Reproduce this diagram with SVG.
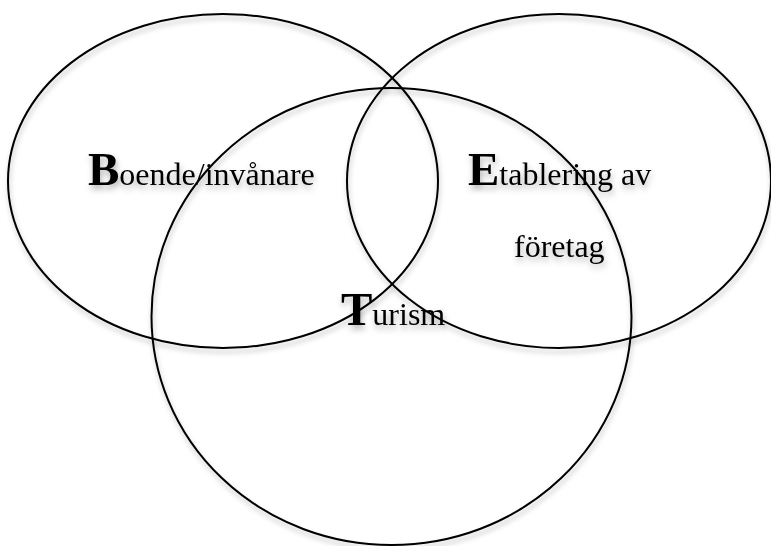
<svg xmlns="http://www.w3.org/2000/svg" width="771" height="546" viewBox="0 0 771 546">
<defs>
<filter id="sh" x="-10%" y="-10%" width="120%" height="130%">
<feDropShadow dx="1" dy="4" stdDeviation="2.5" flood-color="#000" flood-opacity="0.25"/>
</filter>
<filter id="tsh" x="-10%" y="-20%" width="120%" height="160%">
<feDropShadow dx="1" dy="4" stdDeviation="3" flood-color="#000" flood-opacity="0.3"/>
</filter>
</defs>
<style>
.c{fill:none;stroke:#000;stroke-width:2;filter:url(#sh)}
.t{font-family:"Liberation Serif","Times New Roman",serif;font-size:32px;fill:#000;filter:url(#tsh)}
.big{font-size:47px;font-weight:bold}
</style>
<rect width="771" height="546" fill="#fff"/>
<g id="boende">
<ellipse class="c" cx="223" cy="181" rx="215" ry="167"/>
<text class="t" x="88" y="185"><tspan class="big">B</tspan>oende/invånare</text>
</g>
<g id="etablering">
<ellipse class="c" cx="559" cy="181" rx="212" ry="167"/>
<text class="t" x="468" y="185"><tspan class="big">E</tspan>tablering av</text>
<text class="t" x="514" y="257">företag</text>
</g>
<g id="turism">
<ellipse class="c" cx="391.5" cy="316.5" rx="240" ry="228.5"/>
<text class="t" x="341" y="325"><tspan class="big">T</tspan>urism</text>
</g>
<g id="connectors"/>
</svg>
